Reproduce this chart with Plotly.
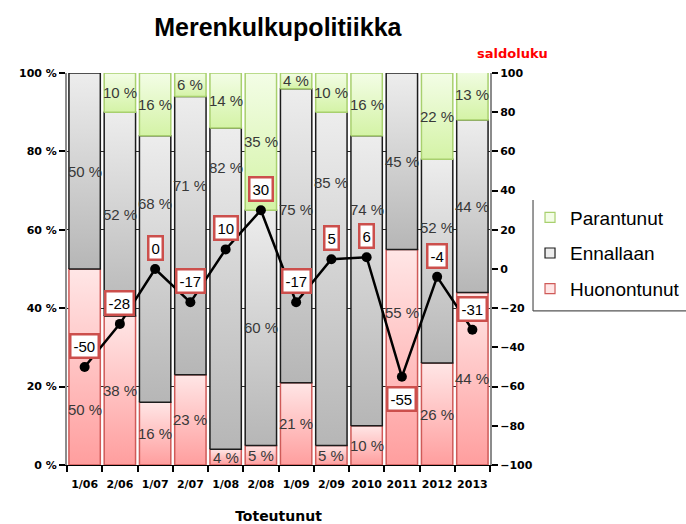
import plotly.graph_objects as go

# Survey results per period (share of answers, %)
categories = ["1/06", "2/06", "1/07", "2/07", "1/08", "2/08",
              "1/09", "2/09", "2010", "2011", "2012", "2013"]
huonontunut = [50, 38, 16, 23, 4, 5, 21, 5, 10, 55, 26, 44]
ennallaan = [50, 52, 68, 71, 82, 60, 75, 85, 74, 45, 52, 44]
parantunut = [0, 10, 16, 6, 14, 35, 4, 10, 16, 0, 22, 13]
# Balance figure (improved minus worsened)
saldoluku = [-50, -28, 0, -17, 10, 30, -17, 5, 6, -55, -4, -31]

pct_ticks = [0, 20, 40, 60, 80, 100]
saldo_ticks = [-100, -80, -60, -40, -20, 0, 20, 40, 60, 80, 100]

BAR_HALF = 0.445
TICK_FONT = dict(family="DejaVu Sans", size=11, color="black", weight="bold")
LABEL_FONT = dict(family="Liberation Sans", size=15, color="#383838")

# Segment labels moved away from the balance line (pixels, up is positive)
LABEL_NUDGE = {
    ("Huonontunut", "1/06"): -42,
    ("Ennallaan", "1/07"): 66,
    ("Ennallaan", "2/07"): 50,
    ("Ennallaan", "1/08"): 121,
    ("Ennallaan", "1/09"): 26,
    ("Ennallaan", "2/09"): 96,
    ("Ennallaan", "2010"): 71,
    ("Huonontunut", "2011"): 45,
    ("Ennallaan", "2012"): 34,
}

# name, values, top colour, bottom colour, edge colour (stacked bottom -> top)
series = [
    ("Huonontunut", huonontunut, "#FFE6E6", "#FF9E9E", "#CF5A58"),
    ("Ennallaan", ennallaan, "#EDEDED", "#B6B6B6", "#1C1C1C"),
    ("Parantunut", parantunut, "#F3FDE6", "#D4F3A6", "#A8D06E"),
]

fig = go.Figure()
xs = list(range(len(categories)))
base = [0] * len(categories)
for name, vals, top, bottom, edge in series:
    for i, v in enumerate(vals):
        if v == 0:
            continue
        y0, y1 = base[i], base[i] + v
        fig.add_trace(go.Scatter(
            x=[i - BAR_HALF, i + BAR_HALF, i + BAR_HALF, i - BAR_HALF, i - BAR_HALF],
            y=[y0, y0, y1, y1, y0],
            mode="lines", fill="toself",
            line=dict(color=edge, width=1.5),
            fillgradient=dict(type="vertical", colorscale=[[0, bottom], [1, top]]),
            hoverinfo="skip", showlegend=False,
        ))
        # Percentage label inside the segment
        fig.add_annotation(
            x=i, y=y0 + v / 2, xref="x", yref="y", text=f"{v} %", showarrow=False,
            yshift=LABEL_NUDGE.get((name, categories[i]), 0), font=LABEL_FONT,
        )
    base = [b + v for b, v in zip(base, vals)]

# Balance line on the secondary axis
fig.add_trace(go.Scatter(
    x=xs, y=saldoluku, yaxis="y2", mode="lines+markers",
    line=dict(color="black", width=2.5),
    marker=dict(color="black", size=10),
    hoverinfo="skip", showlegend=False,
))

# Legend entries (top to bottom)
for name, vals, top, bottom, edge in reversed(series):
    fig.add_trace(go.Scatter(
        x=[None], y=[None], mode="markers", name=name, legendgroup=name,
        marker=dict(symbol="square", size=10, color=top,
                    line=dict(color=edge, width=1.2)),
    ))

# Boxed balance labels
low = min(saldoluku)
for i, v in enumerate(saldoluku):
    fig.add_annotation(
        x=i, y=v, xref="x", yref="y2", text=str(v), showarrow=False,
        yshift=-22 if v == low else 21,
        font=dict(family="Liberation Sans", size=15, color="black"),
        bgcolor="white", bordercolor="#CC4F4C", borderwidth=2.5, borderpad=2,
    )

fig.add_annotation(
    text="saldoluku", xref="paper", yref="paper", x=1.054, y=1.051,
    xanchor="center", yanchor="middle", showarrow=False,
    font=dict(family="DejaVu Sans", size=13, color="#FF0000", weight="bold"),
)

# Legend frame (left and bottom edges)
fig.add_shape(type="line", xref="paper", yref="paper", x0=1.1017, x1=1.1017,
              y0=0.393, y1=0.676, line=dict(color="#555555", width=1.2))
fig.add_shape(type="line", xref="paper", yref="paper", x0=1.1017, x1=1.47,
              y0=0.393, y1=0.393, line=dict(color="#555555", width=1.2))

fig.update_layout(
    width=686, height=524,
    margin=dict(l=67, r=196, t=73, b=59, autoexpand=False),
    paper_bgcolor="white", plot_bgcolor="white",
    title=dict(text="Merenkulkupolitiikka", x=0.405, xanchor="center", y=0.948, yanchor="middle",
               font=dict(family="Liberation Sans", size=25, color="black", weight="bold")),
    showlegend=True,
    legend=dict(x=1.0946, y=0.68, xanchor="left", yanchor="top",
                font=dict(family="Liberation Sans", size=19, color="black"),
                bgcolor="rgba(0,0,0,0)", tracegroupgap=8, traceorder="grouped"),
    xaxis=dict(
        range=[-0.5, len(categories) - 0.5], tickvals=xs, ticktext=categories,
        ticks="outside", ticklen=9, tickcolor="rgba(0,0,0,0)",
        tickfont=TICK_FONT, showgrid=False, zeroline=False,
        showline=True, linecolor="black", linewidth=1,
        minor=dict(tickvals=[i - 0.5 for i in range(len(categories) + 1)],
                   ticks="outside", ticklen=6, tickwidth=1.5, tickcolor="black", showgrid=False),
        title=dict(text="Toteutunut", standoff=24,
                   font=dict(family="DejaVu Sans", size=14, color="black", weight="bold")),
    ),
    yaxis=dict(
        range=[0, 100], tickvals=pct_ticks, ticktext=[f"{t} %" for t in pct_ticks],
        ticks="outside", ticklen=6, tickwidth=1.5, tickcolor="black",
        tickfont=TICK_FONT, showgrid=True, gridcolor="#2a2a2a", gridwidth=1,
        zeroline=False, showline=True, linecolor="#8c8c8c", linewidth=2,
    ),
    yaxis2=dict(
        range=[-100, 100], tickvals=saldo_ticks, overlaying="y", side="right",
        ticks="outside", ticklen=6, tickwidth=1.5, tickcolor="black",
        tickfont=TICK_FONT, showgrid=False, zeroline=False,
        showline=True, linecolor="#8c8c8c", linewidth=2,
    ),
)

fig.write_html("out.html")
